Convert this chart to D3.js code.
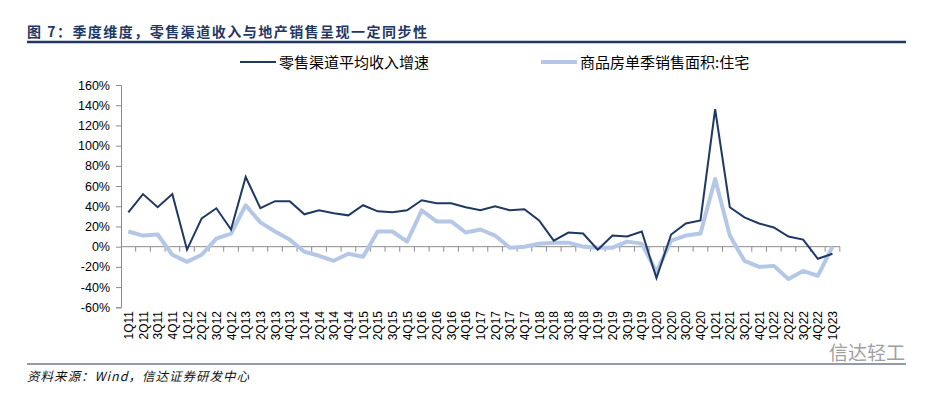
<!DOCTYPE html>
<html>
<head>
<meta charset="utf-8">
<script src="https://cdn.jsdelivr.net/npm/d3@7"></script>
<style>
  body { margin: 0; background: #fff; }
  svg { display: block; font-family: Arial, "Liberation Sans", "Noto Sans CJK SC", sans-serif; }
</style>
</head>
<body>
<svg id="chart" width="935" height="399"></svg>
<script>
const quarters = [
  "1Q11","2Q11","3Q11","4Q11","1Q12","2Q12","3Q12","4Q12","1Q13","2Q13","3Q13","4Q13",
  "1Q14","2Q14","3Q14","4Q14","1Q15","2Q15","3Q15","4Q15","1Q16","2Q16","3Q16","4Q16",
  "1Q17","2Q17","3Q17","4Q17","1Q18","2Q18","3Q18","4Q18","1Q19","2Q19","3Q19","4Q19",
  "1Q20","2Q20","3Q20","4Q20","1Q21","2Q21","3Q21","4Q21","1Q22","2Q22","3Q22","4Q22","1Q23"
]

// 零售渠道平均收入增速 (%)
const retailGrowth = [
  34, 52, 39, 52, -3, 28, 38, 17, 69, 38, 45, 45,
  32, 36, 33, 31, 41, 35, 34, 36, 46, 43, 43, 39,
  36, 40, 36, 37, 26, 6, 14, 13, -3, 11, 10, 15,
  -31, 12, 23, 26, 136, 39, 29, 23, 19, 10, 7, -12, -7
]

// 商品房单季销售面积:住宅 (%)
const housingSales = [
  15, 11, 12, -8, -15, -8, 8, 13, 41, 24, 15, 7,
  -5, -9, -14, -7, -10, 15, 15, 5, 36, 25, 25, 14,
  17, 11, -1, 0, 3, 4, 4, 0, -1, -1, 5, 3,
  -25, 6, 11, 13, 67, 11, -14, -20, -19, -32, -24, -29, 0
]

const yTicks = [-60, -40, -20, 0, 20, 40, 60, 80, 100, 120, 140, 160]

const svg = d3.select("#chart")
const navy = "#1f3864"
const light = "#b4c7e7"
const axisGrey = "#8c8c8c"

// title + rules
svg.append("text")
  .attr("x", 27).attr("y", 37)
  .attr("font-family", "'Noto Sans CJK SC', sans-serif")
  .attr("font-weight", "bold")
  .attr("font-size", 14)
  .attr("textLength", 400)
  .attr("lengthAdjust", "spacing")
  .attr("fill", navy)
  .text("图 7：季度维度，零售渠道收入与地产销售呈现一定同步性")

svg.append("line")
  .attr("x1", 27).attr("x2", 906).attr("y1", 42).attr("y2", 42)
  .attr("stroke", navy).attr("stroke-width", 2.5)

svg.append("line")
  .attr("x1", 27).attr("x2", 906).attr("y1", 364).attr("y2", 364)
  .attr("stroke", navy).attr("stroke-width", 1.2)

svg.append("text")
  .attr("x", 27).attr("y", 381)
  .attr("font-family", "'Noto Sans CJK SC', sans-serif")
  .attr("font-style", "italic")
  .attr("font-size", 12.5)
  .attr("textLength", 222)
  .attr("lengthAdjust", "spacing")
  .attr("fill", "#111")
  .text("资料来源：Wind，信达证券研发中心")

svg.append("text")
  .attr("x", 905).attr("y", 360)
  .attr("text-anchor", "end")
  .attr("font-family", "'Noto Sans CJK SC', sans-serif")
  .attr("font-size", 19)
  .attr("fill", "#a0a0a0")
  .text("信达轻工")

// scales
const x = d3.scaleBand()
  .domain(quarters)
  .range([121, 121 + 14.67 * quarters.length])

const y = d3.scaleLinear()
  .domain([-60, 160])
  .range([307.3, 85])

// y axis
const yAxis = svg.append("g")
  .attr("transform", "translate(121,0)")
  .call(d3.axisLeft(y).tickValues(yTicks).tickSize(5).tickPadding(6).tickFormat(d => d + "%"))
yAxis.select(".domain").attr("stroke", axisGrey)
yAxis.selectAll(".tick line").attr("stroke", axisGrey)
yAxis.selectAll("text")
  .attr("font-family", "Arial, 'Liberation Sans', sans-serif")
  .attr("font-size", 12.5).attr("fill", "#000")

// x axis on the zero line, ticks between categories
const zeroY = y(0)
svg.append("line")
  .attr("x1", 121).attr("x2", x.range()[1])
  .attr("y1", zeroY).attr("y2", zeroY)
  .attr("stroke", axisGrey)

svg.append("g")
  .selectAll("line")
  .data(quarters)
  .join("line")
  .attr("x1", d => x(d) + x.bandwidth())
  .attr("x2", d => x(d) + x.bandwidth())
  .attr("y1", zeroY).attr("y2", zeroY + 5)
  .attr("stroke", axisGrey)

svg.append("g")
  .selectAll("text")
  .data(quarters)
  .join("text")
  .attr("transform", d => `translate(${x(d) + x.bandwidth() / 2 + 4.5},311) rotate(-90)`)
  .attr("text-anchor", "end")
  .attr("font-family", "Arial, 'Liberation Sans', sans-serif")
  .attr("font-size", 12)
  .attr("fill", "#000")
  .text(d => d)

// lines
const line = d3.line()
  .x((d, i) => x(quarters[i]) + x.bandwidth() / 2)
  .y(d => y(d))

svg.append("path")
  .datum(housingSales)
  .attr("d", line)
  .attr("fill", "none")
  .attr("stroke", light)
  .attr("stroke-width", 4)
  .attr("stroke-linejoin", "round")

svg.append("path")
  .datum(retailGrowth)
  .attr("d", line)
  .attr("fill", "none")
  .attr("stroke", navy)
  .attr("stroke-width", 2)

// legend
const legend = [
  { name: "零售渠道平均收入增速", color: navy, width: 2, x: 240 },
  { name: "商品房单季销售面积:住宅", color: light, width: 4, x: 541 }
]

const lg = svg.append("g")
  .selectAll("g")
  .data(legend)
  .join("g")
  .attr("transform", d => `translate(${d.x},62)`)

lg.append("line")
  .attr("x1", 0).attr("x2", 36)
  .attr("stroke", d => d.color)
  .attr("stroke-width", d => d.width)

lg.append("text")
  .attr("x", 39).attr("y", 5.5)
  .attr("font-family", "'Noto Sans CJK SC', sans-serif")
  .attr("font-size", 15)
  .attr("fill", "#000")
  .text(d => d.name)
</script>
</body>
</html>
